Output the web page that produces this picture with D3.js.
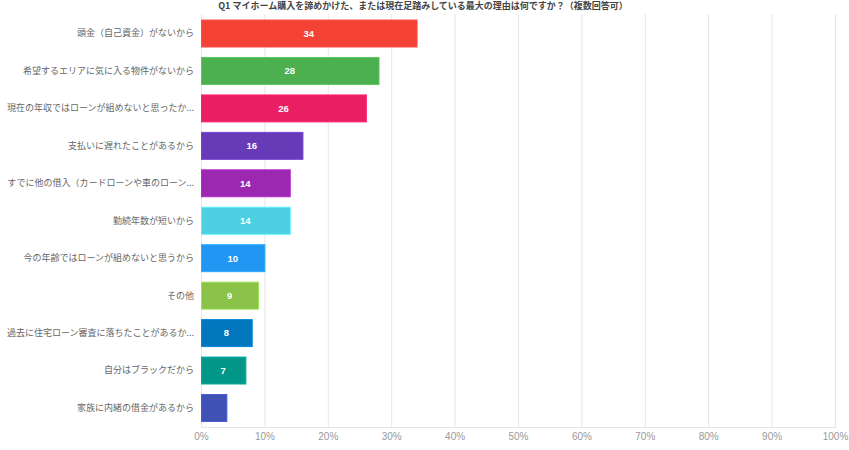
<!DOCTYPE html>
<html><head><meta charset="utf-8">
<script src="https://cdn.jsdelivr.net/npm/d3@7/dist/d3.min.js"></script>
<style>
body{margin:0;background:#fff;}
svg{display:block;font-family:"Liberation Sans","Noto Sans CJK JP",sans-serif;}
</style></head>
<body>
<script>
const title = "Q1 マイホーム購入を諦めかけた、または現在足踏みしている最大の理由は何ですか？（複数回答可）";
const categories = [
  "頭金（自己資金）がないから",
  "希望するエリアに気に入る物件がないから",
  "現在の年収ではローンが組めないと思ったか...",
  "支払いに遅れたことがあるから",
  "すでに他の借入（カードローンや車のローン...",
  "勤続年数が短いから",
  "今の年齢ではローンが組めないと思うから",
  "その他",
  "過去に住宅ローン審査に落ちたことがあるか...",
  "自分はブラックだから",
  "家族に内緒の借金があるから"
];
const values = [34, 28, 26, 16, 14, 14, 10, 9, 8, 7, 4];
const showLabel = [true, true, true, true, true, true, true, true, true, true, false];
const colors = ["#F44336","#4CAF50","#E91E63","#673AB7","#9C27B0","#4DD0E1","#2196F3","#8BC34A","#0277BD","#009688","#3F51B5"];
const ticks = [0,10,20,30,40,50,60,70,80,90,100];

const W = 849, H = 450;
const svg = d3.select("body").append("svg").attr("width", W).attr("height", H);

const x = d3.scaleLinear().domain([0, 100]).range([201, 835]);
const y = d3.scaleBand().domain(categories).range([14.8, 426.7]).paddingInner(0.28).paddingOuter(0.14);

// grid
svg.append("g").selectAll("line").data(ticks).join("line")
  .attr("x1", d => x(d) + 0.5).attr("x2", d => x(d) + 0.5)
  .attr("y1", 14).attr("y2", 428)
  .attr("stroke", "#e6e6e6").attr("stroke-width", 1);
svg.append("line").attr("x1", 201).attr("x2", 836).attr("y1", 427.5).attr("y2", 427.5)
  .attr("stroke", "#e6e6e6");

// x axis labels
const xAxis = d3.axisBottom(x).tickValues(ticks).tickFormat(d => d + "%").tickSize(0).tickPadding(0);
const ga = svg.append("g").attr("transform", "translate(0,433)").call(xAxis);
ga.select(".domain").remove();
ga.selectAll("text").attr("fill", "#999").attr("font-size", 10).attr("dy", "0.71em")
  .attr("font-family", "Liberation Sans, sans-serif");

// y axis labels
const yAxis = d3.axisLeft(y).tickSize(0).tickPadding(0);
const gy = svg.append("g").attr("transform", "translate(194,0)").call(yAxis);
gy.select(".domain").remove();
gy.selectAll("text").attr("fill", "#666").attr("font-size", 9)
  .attr("font-family", "Noto Sans CJK JP, sans-serif");

// bars
svg.append("g").selectAll("rect").data(values).join("rect")
  .attr("x", x(0) + 0.5)
  .attr("y", (d, i) => y(categories[i]))
  .attr("width", d => x(d) - x(0))
  .attr("height", y.bandwidth())
  .attr("fill", (d, i) => colors[i])
  .attr("stroke", (d, i) => d3.color(colors[i]).brighter(0.4))
  .attr("stroke-width", 1);

// value labels
const labelled = values.map((v, i) => ({v, i})).filter(o => showLabel[o.i]);
svg.append("g").selectAll("text").data(labelled).join("text")
  .attr("x", o => (x(0) + x(o.v)) / 2)
  .attr("y", o => y(categories[o.i]) + y.bandwidth() / 2)
  .attr("dy", "0.35em")
  .attr("text-anchor", "middle")
  .attr("fill", "#fff").attr("font-weight", "bold").attr("font-size", 9.5)
  .attr("font-family", "Liberation Sans, sans-serif")
  .text(o => o.v);

// title
svg.append("text").attr("x", 423).attr("y", 9).attr("text-anchor", "middle")
  .attr("fill", "#444").attr("font-weight", "bold").attr("font-size", 9)
  .attr("font-family", "Noto Sans CJK JP, sans-serif")
  .text(title);
</script>
</body></html>
